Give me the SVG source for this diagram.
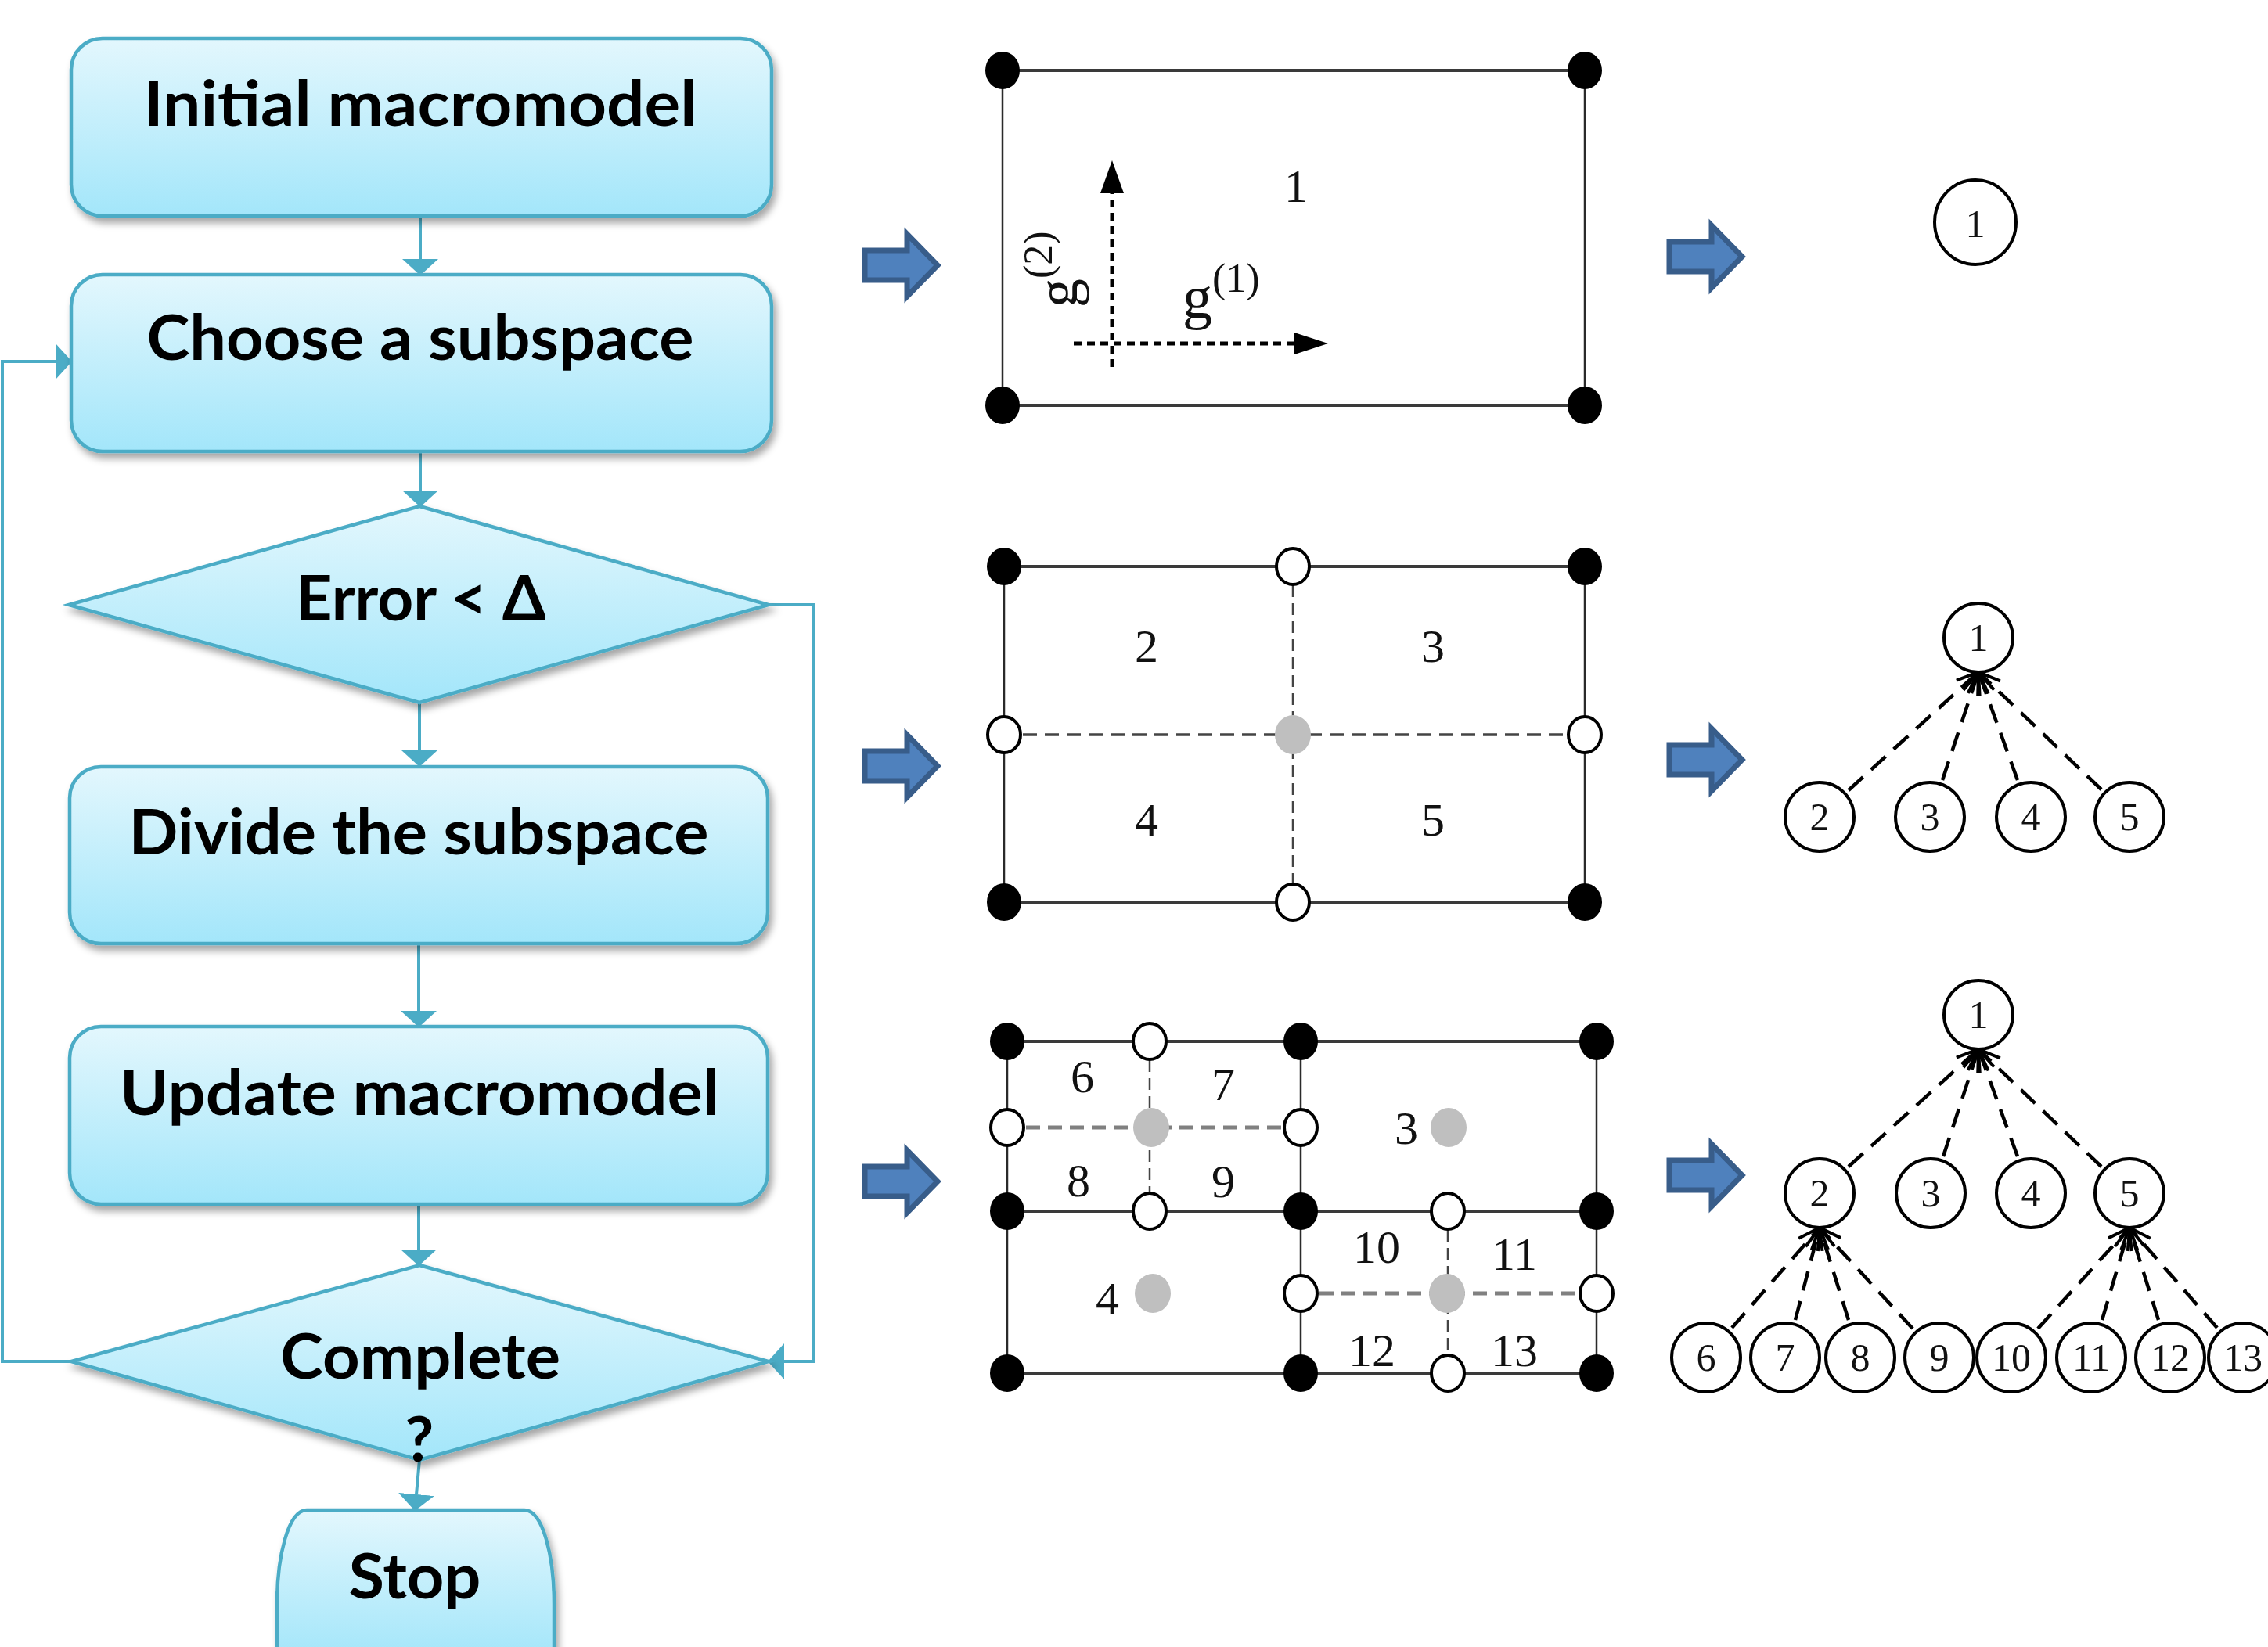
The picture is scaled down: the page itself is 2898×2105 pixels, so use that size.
<svg xmlns="http://www.w3.org/2000/svg" xmlns:xlink="http://www.w3.org/1999/xlink" width="2898" height="2105" viewBox="0 0 2898 2105">
  <style>
    .fc { fill: url(#aqua); stroke: #4BACC6; stroke-width: 4.5; filter: url(#sh); }
    .fct { font-family: Lato, "Open Sans", "DejaVu Sans", sans-serif; font-weight: bold; font-size: 80px; fill: #000; text-anchor: middle; }
    .con { fill: none; stroke: #4BACC6; stroke-width: 4; marker-end: url(#tri); }
    .blk { fill: #4F81BD; stroke: #385D8A; stroke-width: 7; stroke-linejoin: miter; }
    .eh { stroke: #3a3a3a; stroke-width: 4; fill: none; }
    .ev { stroke: #2a2a2a; stroke-width: 2.5; fill: none; }
    .dh { stroke: #444; stroke-width: 3.5; stroke-dasharray: 18 10; fill: none; }
    .dh2 { stroke: #808080; stroke-width: 5; stroke-dasharray: 18 10; fill: none; }
    .dv { stroke: #444; stroke-width: 2.5; stroke-dasharray: 15 8; fill: none; }
    .bd { fill: #000; }
    .od { fill: #fff; stroke: #000; stroke-width: 4; }
    .gd { fill: #BFBFBF; }
    .lbl { font-family: "Liberation Serif", "Times New Roman", serif; font-size: 60px; fill: #111; text-anchor: middle; }
    .tn { fill: #fff; stroke: #000; stroke-width: 4; }
    .tt { font-family: "Liberation Serif", "Times New Roman", serif; font-size: 50px; fill: #111; text-anchor: middle; }
    .te { stroke: #000; stroke-width: 4.5; stroke-dasharray: 25 14; fill: none; marker-end: url(#vee); }
    .ax { stroke: #000; stroke-width: 5; stroke-dasharray: 10 7; fill: none; }
  </style>
  <defs>
    <linearGradient id="aqua" x1="0" y1="0" x2="0" y2="1">
      <stop offset="0" stop-color="#E3F7FD"/>
      <stop offset="1" stop-color="#A3E6FA"/>
    </linearGradient>
    <filter id="sh" x="-10%" y="-10%" width="120%" height="130%">
      <feDropShadow dx="4" dy="7" stdDeviation="5" flood-color="#000" flood-opacity="0.35"/>
    </filter>
    <marker id="tri" markerUnits="userSpaceOnUse" viewBox="0 -24 22 48" refX="0" refY="0" markerWidth="22" markerHeight="48" orient="auto">
      <path d="M0,-23 L21,0 L0,23 Z" fill="#4BACC6"/>
    </marker>
    <marker id="vee" markerUnits="userSpaceOnUse" viewBox="-32 -14 34 28" refX="0" refY="0" markerWidth="34" markerHeight="28" orient="auto">
      <path d="M-28,-11 L0,0 L-28,11" fill="none" stroke="#000" stroke-width="4" stroke-dasharray="none"/>
    </marker>
    <path id="blkarrow" d="M3,25 H57 V4 L96,44 L57,84 V63 H3 Z"/>
  </defs>

  <!-- flowchart connectors -->
  <g id="connectors">
    <path class="con" d="M537,276 V331"/>
    <path class="con" d="M537,577 V627"/>
    <path class="con" d="M536,898 V959"/>
    <path class="con" d="M535,1207 V1292"/>
    <path class="con" d="M535,1539 V1597"/>
    <path class="con" d="M536,1866 L532,1910"/>
    <path class="con" d="M91,1740 H3 V462 H71"/>
    <path class="con" d="M982,773 H1040 V1740 H1002"/>
  </g>

  <!-- flowchart steps -->
  <g id="step-initial">
    <rect class="fc" x="91" y="49" width="895" height="227" rx="40"/>
    <text class="fct" x="537" y="161" textLength="707" lengthAdjust="spacingAndGlyphs">Initial macromodel</text>
  </g>
  <g id="step-choose">
    <rect class="fc" x="91" y="351" width="895" height="226" rx="40"/>
    <text class="fct" x="537" y="460" textLength="699" lengthAdjust="spacingAndGlyphs">Choose a subspace</text>
  </g>
  <g id="decision-error">
    <polygon class="fc" points="536,647 982,773 536,898 88,773"/>
    <text class="fct" x="538" y="793" textLength="319" lengthAdjust="spacingAndGlyphs">Error &lt; Δ</text>
  </g>
  <g id="step-divide">
    <rect class="fc" x="89" y="980" width="892" height="226" rx="40"/>
    <text class="fct" x="535" y="1092" textLength="741" lengthAdjust="spacingAndGlyphs">Divide the subspace</text>
  </g>
  <g id="step-update">
    <rect class="fc" x="89" y="1312" width="892" height="227" rx="40"/>
    <text class="fct" x="536" y="1425" textLength="766" lengthAdjust="spacingAndGlyphs">Update macromodel</text>
  </g>
  <g id="decision-complete">
    <polygon class="fc" points="536,1617 982,1740 536,1866 91,1740"/>
    <text class="fct" x="537" y="1762" textLength="358" lengthAdjust="spacingAndGlyphs">Complete</text>
    <text class="fct" x="536" y="1868">?</text>
  </g>
  <g id="step-stop">
    <path class="fc" d="M392,1930 H670 C694,1930 708,1990 708,2050 V2120 H354 V2050 C354,1990 368,1930 392,1930 Z"/>
    <text class="fct" x="530" y="2043" textLength="169" lengthAdjust="spacingAndGlyphs">Stop</text>
  </g>

  <!-- block arrows between stages -->
  <g id="stage-arrows">
    <use xlink:href="#blkarrow" class="blk" transform="translate(1102,295)"/>
    <use xlink:href="#blkarrow" class="blk" transform="translate(1102,935)"/>
    <use xlink:href="#blkarrow" class="blk" transform="translate(1102,1466)"/>
    <use xlink:href="#blkarrow" class="blk" transform="translate(2130,284)"/>
    <use xlink:href="#blkarrow" class="blk" transform="translate(2130,927)"/>
    <use xlink:href="#blkarrow" class="blk" transform="translate(2130,1458)"/>
  </g>

  <!-- grid 1: initial space -->
  <g id="grid-1">
    <line class="eh" x1="1281" y1="90" x2="2025" y2="90"/>
    <line class="eh" x1="1281" y1="518" x2="2025" y2="518"/>
    <line class="ev" x1="1281" y1="90" x2="1281" y2="518"/>
    <line class="ev" x1="2025" y1="90" x2="2025" y2="518"/>
    <line class="ax" x1="1421" y1="469" x2="1421" y2="246"/>
    <polygon points="1421,205 1436,247 1406,247" fill="#000"/>
    <line class="ax" x1="1372" y1="439" x2="1655" y2="439"/>
    <polygon points="1697,439 1654,425 1654,453" fill="#000"/>
    <text class="lbl" x="1656" y="258">1</text>
    <text font-family="Liberation Serif, Times New Roman, serif" font-size="74" fill="#111" transform="translate(1376,393) rotate(-90)">g<tspan font-size="52" dy="-32">(2)</tspan></text>
    <text font-family="Liberation Serif, Times New Roman, serif" font-size="76" fill="#111" x="1511" y="406">g<tspan font-size="52" dy="-33">(1)</tspan></text>
    <ellipse class="bd" cx="1281" cy="90" rx="22" ry="24"/>
    <ellipse class="bd" cx="2025" cy="90" rx="22" ry="24"/>
    <ellipse class="bd" cx="1281" cy="518" rx="22" ry="24"/>
    <ellipse class="bd" cx="2025" cy="518" rx="22" ry="24"/>
  </g>

  <!-- grid 2: first subdivision -->
  <g id="grid-2">
    <line class="eh" x1="1283" y1="724" x2="2025" y2="724"/>
    <line class="eh" x1="1283" y1="1153" x2="2025" y2="1153"/>
    <line class="ev" x1="1283" y1="724" x2="1283" y2="1153"/>
    <line class="ev" x1="2025" y1="724" x2="2025" y2="1153"/>
    <line class="dv" x1="1652" y1="748" x2="1652" y2="1129"/>
    <line class="dh" x1="1307" y1="939" x2="2001" y2="939"/>
    <text class="lbl" x="1465" y="846" font-size="58">2</text>
    <text class="lbl" x="1831" y="846" font-size="58">3</text>
    <text class="lbl" x="1465" y="1068" font-size="58">4</text>
    <text class="lbl" x="1831" y="1068" font-size="58">5</text>
    <ellipse class="bd" cx="1283" cy="724" rx="22" ry="24"/>
    <ellipse class="bd" cx="2025" cy="724" rx="22" ry="24"/>
    <ellipse class="bd" cx="1283" cy="1153" rx="22" ry="24"/>
    <ellipse class="bd" cx="2025" cy="1153" rx="22" ry="24"/>
    <ellipse class="od" cx="1652" cy="724" rx="21" ry="23"/>
    <ellipse class="od" cx="1283" cy="939" rx="21" ry="23"/>
    <ellipse class="od" cx="2025" cy="939" rx="21" ry="23"/>
    <ellipse class="od" cx="1652" cy="1153" rx="21" ry="23"/>
    <ellipse class="gd" cx="1652" cy="939" rx="23" ry="25"/>
  </g>

  <!-- grid 3: second subdivision -->
  <g id="grid-3">
    <line class="eh" x1="1287" y1="1331" x2="2040" y2="1331"/>
    <line class="eh" x1="1287" y1="1548" x2="2040" y2="1548"/>
    <line class="eh" x1="1287" y1="1755" x2="2040" y2="1755"/>
    <line class="ev" x1="1287" y1="1331" x2="1287" y2="1755"/>
    <line class="ev" x1="1662" y1="1331" x2="1662" y2="1755"/>
    <line class="ev" x1="2040" y1="1331" x2="2040" y2="1755"/>
    <line class="dv" x1="1469" y1="1355" x2="1469" y2="1524"/>
    <line class="dh2" x1="1311" y1="1441" x2="1638" y2="1441"/>
    <line class="dv" x1="1850" y1="1572" x2="1850" y2="1731"/>
    <line class="dh2" x1="1686" y1="1653" x2="2016" y2="1653"/>
    <text class="lbl" x="1383" y="1396">6</text>
    <text class="lbl" x="1563" y="1406">7</text>
    <text class="lbl" x="1378" y="1529">8</text>
    <text class="lbl" x="1563" y="1530">9</text>
    <text class="lbl" x="1797" y="1462">3</text>
    <text class="lbl" x="1415" y="1680">4</text>
    <text class="lbl" x="1759" y="1614">10</text>
    <text class="lbl" x="1935" y="1623">11</text>
    <text class="lbl" x="1753" y="1746">12</text>
    <text class="lbl" x="1935" y="1746">13</text>
    <ellipse class="bd" cx="1287" cy="1331" rx="22" ry="24"/>
    <ellipse class="bd" cx="1662" cy="1331" rx="22" ry="24"/>
    <ellipse class="bd" cx="2040" cy="1331" rx="22" ry="24"/>
    <ellipse class="bd" cx="1287" cy="1548" rx="22" ry="24"/>
    <ellipse class="bd" cx="1662" cy="1548" rx="22" ry="24"/>
    <ellipse class="bd" cx="2040" cy="1548" rx="22" ry="24"/>
    <ellipse class="bd" cx="1287" cy="1755" rx="22" ry="24"/>
    <ellipse class="bd" cx="1662" cy="1755" rx="22" ry="24"/>
    <ellipse class="bd" cx="2040" cy="1755" rx="22" ry="24"/>
    <ellipse class="od" cx="1469" cy="1331" rx="21" ry="23"/>
    <ellipse class="od" cx="1287" cy="1441" rx="21" ry="23"/>
    <ellipse class="od" cx="1662" cy="1441" rx="21" ry="23"/>
    <ellipse class="od" cx="1469" cy="1548" rx="21" ry="23"/>
    <ellipse class="od" cx="1850" cy="1548" rx="21" ry="23"/>
    <ellipse class="od" cx="1662" cy="1653" rx="21" ry="23"/>
    <ellipse class="od" cx="2040" cy="1653" rx="21" ry="23"/>
    <ellipse class="od" cx="1850" cy="1755" rx="21" ry="23"/>
    <ellipse class="gd" cx="1471" cy="1441" rx="23" ry="25"/>
    <ellipse class="gd" cx="1851" cy="1441" rx="23" ry="25"/>
    <ellipse class="gd" cx="1473" cy="1653" rx="23" ry="25"/>
    <ellipse class="gd" cx="1849" cy="1653" rx="23" ry="25"/>
  </g>

  <!-- tree 1 -->
  <g id="tree-1">
    <ellipse class="tn" cx="2524" cy="284" rx="52" ry="54"/>
    <text class="tt" x="2524" y="303" font-size="56">1</text>
  </g>

  <!-- tree 2 -->
  <g id="tree-2">
    <line class="te" x1="2362" y1="1010" x2="2528" y2="859"/>
    <line class="te" x1="2482" y1="997" x2="2528" y2="859"/>
    <line class="te" x1="2578" y1="997" x2="2528" y2="859"/>
    <line class="te" x1="2685" y1="1009" x2="2528" y2="859"/>
    <circle class="tn" cx="2528" cy="815" r="44"/>
    <text class="tt" x="2528" y="832">1</text>
    <circle class="tn" cx="2325" cy="1044" r="44"/>
    <text class="tt" x="2325" y="1061">2</text>
    <circle class="tn" cx="2466" cy="1044" r="44"/>
    <text class="tt" x="2466" y="1061">3</text>
    <circle class="tn" cx="2595" cy="1044" r="44"/>
    <text class="tt" x="2595" y="1061">4</text>
    <circle class="tn" cx="2721" cy="1044" r="44"/>
    <text class="tt" x="2721" y="1061">5</text>
  </g>

  <!-- tree 3 -->
  <g id="tree-3">
    <line class="te" x1="2362" y1="1491" x2="2528" y2="1341"/>
    <line class="te" x1="2483" y1="1478" x2="2528" y2="1341"/>
    <line class="te" x1="2578" y1="1478" x2="2528" y2="1341"/>
    <line class="te" x1="2685" y1="1491" x2="2528" y2="1341"/>
    <line class="te" x1="2213" y1="1697" x2="2325" y2="1569"/>
    <line class="te" x1="2294" y1="1687" x2="2325" y2="1569"/>
    <line class="te" x1="2362" y1="1687" x2="2325" y2="1569"/>
    <line class="te" x1="2444" y1="1698" x2="2325" y2="1569"/>
    <line class="te" x1="2604" y1="1698" x2="2721" y2="1569"/>
    <line class="te" x1="2686" y1="1687" x2="2721" y2="1569"/>
    <line class="te" x1="2758" y1="1687" x2="2721" y2="1569"/>
    <line class="te" x1="2833" y1="1697" x2="2721" y2="1569"/>
    <circle class="tn" cx="2528" cy="1297" r="44"/>
    <text class="tt" x="2528" y="1314">1</text>
    <circle class="tn" cx="2325" cy="1525" r="44"/>
    <text class="tt" x="2325" y="1542">2</text>
    <circle class="tn" cx="2467" cy="1525" r="44"/>
    <text class="tt" x="2467" y="1542">3</text>
    <circle class="tn" cx="2595" cy="1525" r="44"/>
    <text class="tt" x="2595" y="1542">4</text>
    <circle class="tn" cx="2721" cy="1525" r="44"/>
    <text class="tt" x="2721" y="1542">5</text>
    <circle class="tn" cx="2180" cy="1735" r="44"/>
    <text class="tt" x="2180" y="1752">6</text>
    <circle class="tn" cx="2281" cy="1735" r="44"/>
    <text class="tt" x="2281" y="1752">7</text>
    <circle class="tn" cx="2377" cy="1735" r="44"/>
    <text class="tt" x="2377" y="1752">8</text>
    <circle class="tn" cx="2478" cy="1735" r="44"/>
    <text class="tt" x="2478" y="1752">9</text>
    <circle class="tn" cx="2570" cy="1735" r="44"/>
    <text class="tt" x="2570" y="1752">10</text>
    <circle class="tn" cx="2672" cy="1735" r="44"/>
    <text class="tt" x="2672" y="1752">11</text>
    <circle class="tn" cx="2773" cy="1735" r="44"/>
    <text class="tt" x="2773" y="1752">12</text>
    <circle class="tn" cx="2866" cy="1735" r="44"/>
    <text class="tt" x="2866" y="1752">13</text>
  </g>
</svg>
